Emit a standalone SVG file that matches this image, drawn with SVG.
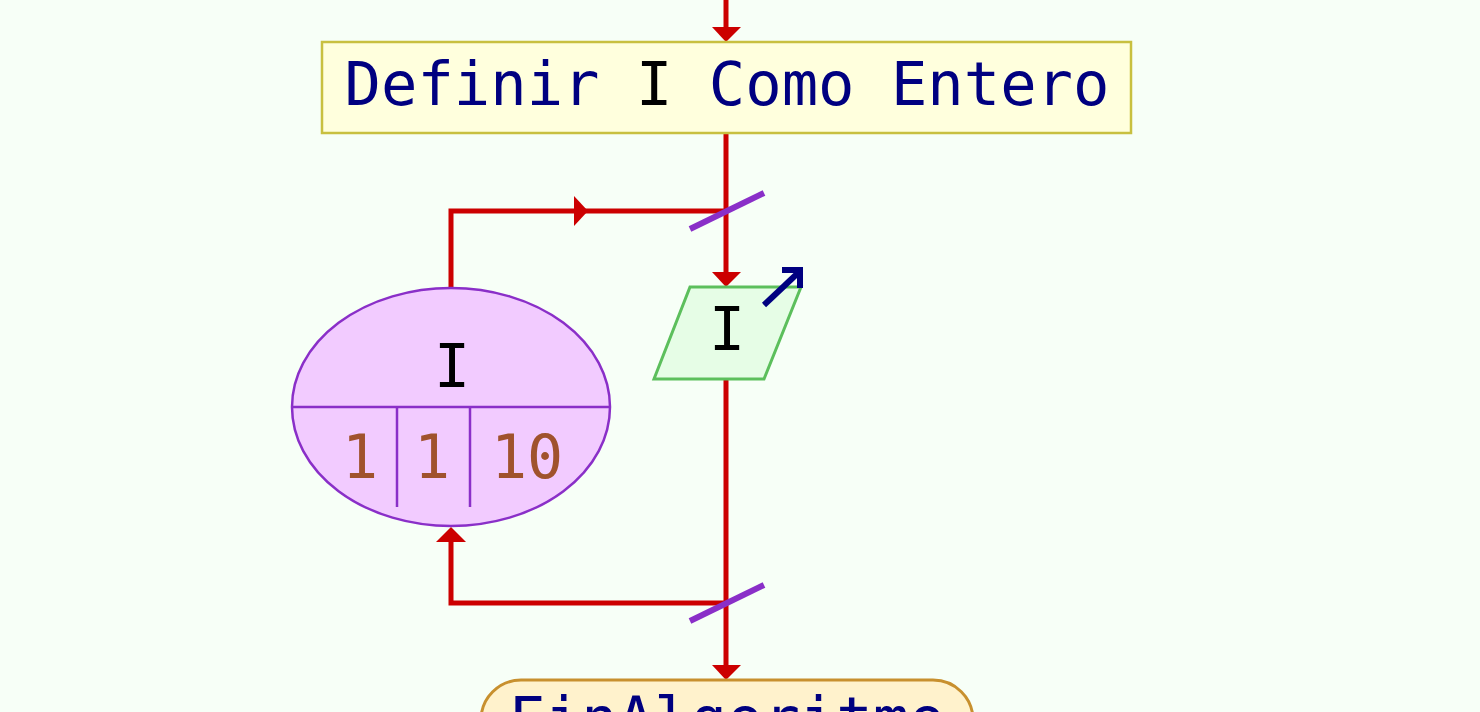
<svg xmlns="http://www.w3.org/2000/svg" width="1480" height="712" viewBox="0 0 1480 712">
<style>
.flow{stroke:#cc0000;stroke-width:5;fill:none}
.head{fill:#cc0000}
.slash{stroke:#8a2fc8;stroke-width:6}
.mono{font-family:"DejaVu Sans Mono","Liberation Mono",monospace}
</style>
<rect width="1480" height="712" fill="#f7fff7"/>
<g id="connectors">
<line class="flow" x1="726" y1="0" x2="726" y2="28"/>
<polygon class="head" points="712,27 741,27 726,42"/>
<line class="flow" x1="726" y1="133" x2="726" y2="273"/>
<polygon class="head" points="712,272 741,272 726,287"/>
<polyline class="flow" points="451,288 451,211 726,211"/>
<polygon class="head" points="574,196 588,211 574,226"/>
<line class="slash" x1="690" y1="229" x2="764" y2="193"/>
<line class="flow" x1="726" y1="379" x2="726" y2="666"/>
<polygon class="head" points="712,665 741,665 726,680"/>
<polyline class="flow" points="726,603 451,603 451,540"/>
<polygon class="head" points="436,542 466,542 451,527"/>
<line class="slash" x1="690" y1="621" x2="764" y2="585"/>
</g>
<g id="define">
<rect x="322" y="42" width="809" height="91" fill="#ffffdd" stroke="#c8c040" stroke-width="2.5"/>
<text class="mono" x="727" y="105" font-size="60.5" text-anchor="middle" fill="#000080">Definir <tspan fill="#000000">I</tspan> Como Entero</text>
</g>
<g id="read">
<polygon points="690,287 801,287 764,379 654,379" fill="#e6fde6" stroke="#5cbf5c" stroke-width="3"/>
<text class="mono" x="727" y="350" font-size="60" text-anchor="middle" fill="#000000">I</text>
<line x1="764" y1="305" x2="799" y2="272" stroke="#000080" stroke-width="6"/>
<polyline points="782,270 800,270 800,288" fill="none" stroke="#000080" stroke-width="6"/>
</g>
<g id="for">
<ellipse cx="451" cy="407" rx="159" ry="119" fill="#f2cbff" stroke="#8a2fc8" stroke-width="2.5"/>
<line x1="292" y1="407" x2="611" y2="407" stroke="#8a2fc8" stroke-width="2.5"/>
<line x1="397" y1="407" x2="397" y2="507" stroke="#8a2fc8" stroke-width="2.5"/>
<line x1="470" y1="407" x2="470" y2="507" stroke="#8a2fc8" stroke-width="2.5"/>
<text class="mono" x="452" y="387" font-size="60" text-anchor="middle" fill="#000000">I</text>
<text class="mono" x="360" y="478" font-size="60" text-anchor="middle" fill="#a0522d">1</text>
<text class="mono" x="432" y="478" font-size="60" text-anchor="middle" fill="#a0522d">1</text>
<text class="mono" x="527" y="478" font-size="60" text-anchor="middle" fill="#a0522d">10</text>
</g>
<g id="end">
<rect x="481" y="680" width="492" height="90" rx="40" fill="#fff2cc" stroke="#c8902e" stroke-width="3"/>
<text class="mono" x="727" y="740" font-size="60.5" text-anchor="middle" fill="#000080">FinAlgoritmo</text>
</g>
</svg>
